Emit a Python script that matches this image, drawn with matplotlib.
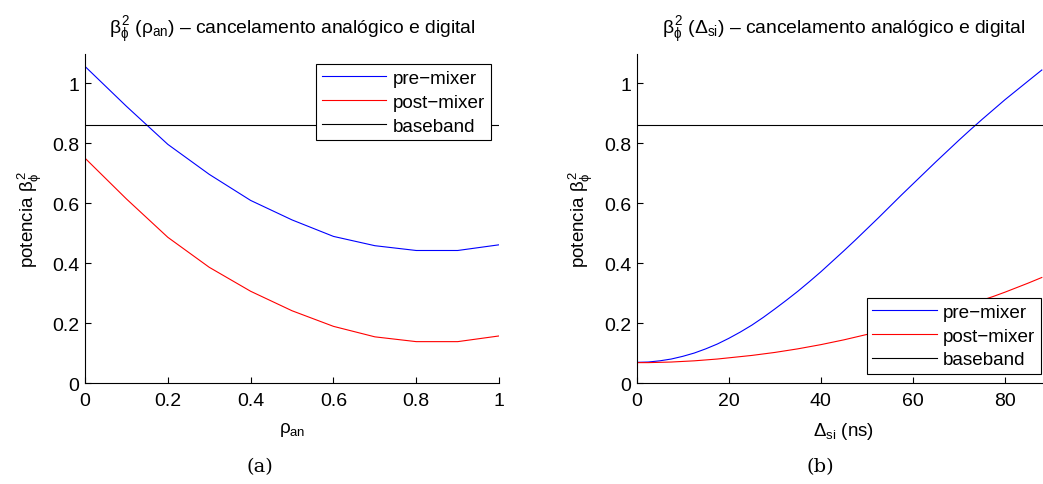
import matplotlib
matplotlib.use("Agg")
import matplotlib.pyplot as plt

plt.rcParams['font.family'] = ['Liberation Sans', 'DejaVu Sans']
plt.rcParams['mathtext.fontset'] = 'custom'
plt.rcParams['mathtext.rm'] = 'Liberation Sans'
plt.rcParams['mathtext.it'] = 'Liberation Sans'
plt.rcParams['mathtext.bf'] = 'Liberation Sans:bold'

# (a) potencia vs rho_an
rho_an = [0.0, 0.1, 0.2, 0.3, 0.4, 0.5, 0.6, 0.7, 0.8, 0.9, 1.0]
pre_a = [1.057, 0.924, 0.797, 0.697, 0.610, 0.545, 0.490, 0.459, 0.443, 0.443, 0.462]
post_a = [0.751, 0.615, 0.487, 0.387, 0.307, 0.242, 0.190, 0.155, 0.139, 0.139, 0.158]

# (b) potencia vs delta_si (ns)
delta_si = [0, 2.5, 5, 7.5, 10, 12.5, 15, 17.5, 20, 22.5, 25, 27.5, 30, 32.5, 35, 37.5,
            40, 42.5, 45, 47.5, 50, 52.5, 55, 57.5, 60, 62.5, 65, 67.5, 70, 72.5, 75,
            77.5, 80, 82.5, 85, 88]
pre_b = [0.070, 0.071, 0.075, 0.081, 0.090, 0.101, 0.115, 0.131, 0.150, 0.171, 0.194,
         0.220, 0.248, 0.277, 0.307, 0.339, 0.372, 0.407, 0.442, 0.478, 0.515, 0.552,
         0.590, 0.628, 0.665, 0.702, 0.739, 0.775, 0.811, 0.846, 0.880, 0.913, 0.946,
         0.977, 1.008, 1.045]
post_b = [0.069, 0.069, 0.070, 0.071, 0.073, 0.075, 0.078, 0.081, 0.085, 0.089, 0.093,
          0.098, 0.103, 0.109, 0.115, 0.122, 0.129, 0.137, 0.145, 0.154, 0.163, 0.173,
          0.183, 0.194, 0.205, 0.216, 0.228, 0.240, 0.252, 0.264, 0.277, 0.290, 0.304,
          0.319, 0.334, 0.353]

baseband = 0.86
labels = ['pre\u2212mixer', 'post\u2212mixer', 'baseband']
yticks = [0, 0.2, 0.4, 0.6, 0.8, 1.0]
yticklabels = ['0', '0.2', '0.4', '0.6', '0.8', '1']

fig = plt.figure(figsize=(10.43, 4.85), dpi=100)
ax1 = fig.add_axes([0.0815, 0.2076, 0.397, 0.680])
ax2 = fig.add_axes([0.6105, 0.2076, 0.3972, 0.680])


def style(ax):
    for s in ['top', 'right']:
        ax.spines[s].set_visible(False)
    for s in ['left', 'bottom']:
        ax.spines[s].set_linewidth(0.8)
    ax.tick_params(direction='in', length=4, width=0.8, labelsize=14)
    ax.tick_params(axis='y', pad=4)
    ax.tick_params(axis='x', pad=6)
    ax.set_ylim(0, 1.1)
    ax.set_yticks(yticks)
    ax.set_yticklabels(yticklabels)
    ax.set_ylabel(r'potencia $\beta^2_\phi$', fontsize=13.5)
    ax.yaxis.set_label_coords(-0.10, 0.5)


def legend(ax, loc, anchor):
    leg = ax.legend(loc=loc, bbox_to_anchor=anchor, fancybox=False, edgecolor='black',
                    framealpha=1, fontsize=13.6, handlelength=3.4, handletextpad=0.35,
                    borderpad=0.3, labelspacing=0.35, borderaxespad=0)
    leg.get_frame().set_linewidth(0.8)


title_a = r'$\beta^2_\phi$ ($\rho_{an}$) ' + '\u2013 cancelamento analógico e digital'
title_b = r'$\beta^2_\phi$ ($\Delta_{si}$) ' + '\u2013 cancelamento analógico e digital'

ax1.plot(rho_an, pre_a, color='blue', lw=0.8, label=labels[0])
ax1.plot(rho_an, post_a, color='red', lw=0.8, label=labels[1])
ax1.axhline(baseband, color='black', lw=0.8, label=labels[2])
style(ax1)
ax1.set_xlim(0, 1)
ax1.set_xticks([0, 0.2, 0.4, 0.6, 0.8, 1.0])
ax1.set_xticklabels(['0', '0.2', '0.4', '0.6', '0.8', '1'])
ax1.set_xlabel(r'$\rho_{an}$', fontsize=13.5, labelpad=8)
ax1.set_title(title_a, fontsize=13.9, pad=15)
legend(ax1, 'upper right', (0.980, 0.968))

ax2.plot(delta_si, pre_b, color='blue', lw=0.8, label=labels[0])
ax2.plot(delta_si, post_b, color='red', lw=0.8, label=labels[1])
ax2.axhline(baseband, color='black', lw=0.8, label=labels[2])
style(ax2)
ax2.set_xlim(0, 90)
ax2.set_xticks([0, 20, 40, 60, 80])
ax2.set_xlabel(r'$\Delta_{si}$ (ns)', fontsize=13.5, labelpad=8)
ax2.set_title(title_b, fontsize=13.9, pad=15)
legend(ax2, 'lower right', (0.976, 0.028))

fig.text(260 / 1043, 1 - 467 / 485, '(a)', ha='center', va='center',
         family='DejaVu Serif', fontsize=14)
fig.text(820 / 1043, 1 - 467 / 485, '(b)', ha='center', va='center',
         family='DejaVu Serif', fontsize=14)

fig.savefig('out.png', dpi=100)
